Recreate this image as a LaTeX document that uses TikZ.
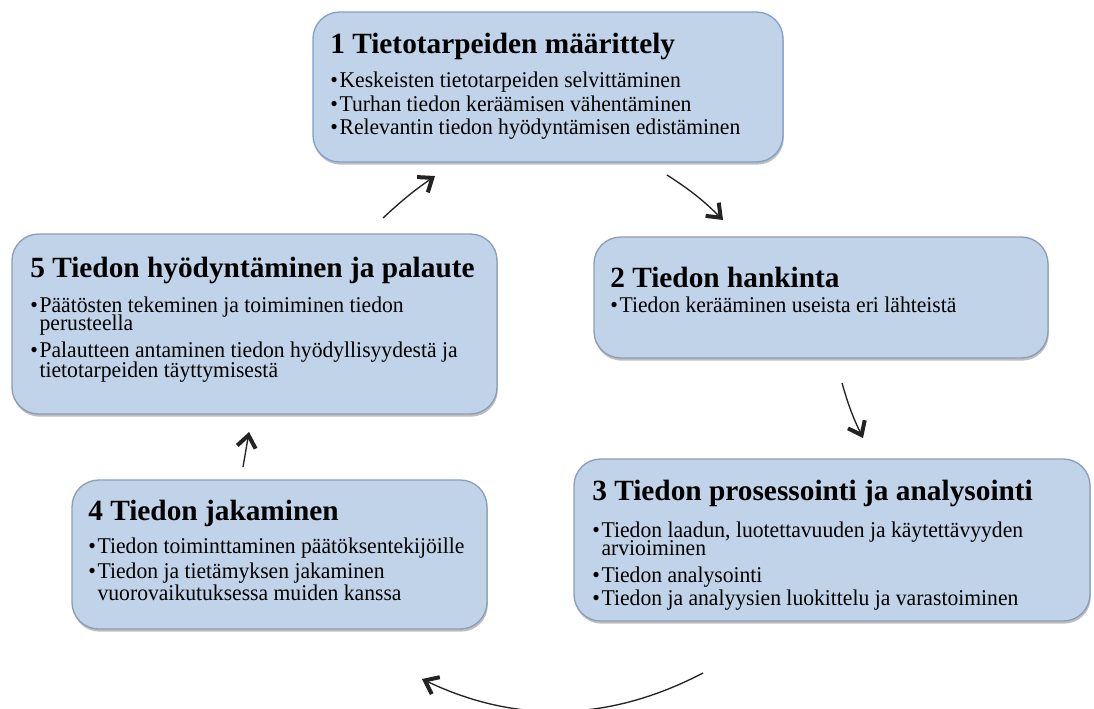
\documentclass[tikz,border=0pt]{standalone}
\usepackage{fontspec}
\setmainfont{Liberation Serif}
\newfontfamily\bodyfont{Liberation Serif}[FakeStretch=0.96]
\usetikzlibrary{arrows.meta,shadows}
\definecolor{boxfill}{RGB}{193,211,232}
\definecolor{boxline}{RGB}{140,158,182}
\definecolor{boxlineb}{RGB}{128,160,208}
\definecolor{arrowcol}{RGB}{35,35,35}
\newcommand\bulletmark{\makebox[7pt][l]{•}}
\newcommand\twolines[3][13.8pt]{\vtop{\baselineskip=#1\lineskiplimit=-100pt\lineskip=0pt\hbox{#2}\hbox{#3}}}
\begin{document}
\begin{tikzpicture}[x=0.75pt,y=-0.75pt,
 procbox/.style={draw=boxline, line width=1pt, fill=boxfill, rounded corners=20pt, inner sep=0pt, outer sep=0pt,
   drop shadow={shadow xshift=0.6pt,shadow yshift=-2pt,opacity=0.45,fill=black!55}},
 titletext/.style={anchor=base west, inner sep=0pt, font=\fontsize{22}{26}\selectfont\bfseries},
 bodytext/.style={anchor=base west, inner sep=0pt, font=\bodyfont\fontsize{16.9}{19}\selectfont},
 flowarrow/.style={draw=arrowcol, line width=1pt, -{Straight Barb[length=9pt,width=14pt,line width=3pt]}}]
\clip (0,0) rectangle (1094,708);
\fill[white] (0,0) rectangle (1094,708);

% boxes
\node[procbox, draw=boxlineb, minimum width=352.5pt, minimum height=112.5pt] (b1) at (548,87) {};
\node[procbox, minimum width=340.5pt, minimum height=90.75pt] (b2) at (821,297.5) {};
\node[procbox, minimum width=387pt, minimum height=121.5pt] (b3) at (832,540) {};
\node[procbox, minimum width=311.25pt, minimum height=111.75pt] (b4) at (279.5,554.5) {};
\node[procbox, minimum width=363.75pt, minimum height=135pt] (b5) at (254.5,324) {};

% box 1
\node[titletext] (t1) at (330,53) {1 Tietotarpeiden määrittely};
\node[bodytext] (t1a) at (330,87) {\bulletmark Keskeisten tietotarpeiden selvittäminen};
\node[bodytext] (t1b) at (330,111) {\bulletmark Turhan tiedon keräämisen vähentäminen};
\node[bodytext] (t1c) at (330,134) {\bulletmark Relevantin tiedon hyödyntämisen edistäminen};

% box 2
\node[titletext] (t2) at (610,287) {2 Tiedon hankinta};
\node[bodytext] (t2a) at (610,312) {\bulletmark Tiedon kerääminen useista eri lähteistä};

% box 3
\node[titletext] (t3) at (592,500) {3 Tiedon prosessointi ja analysointi};
\node[bodytext] (t3a) at (592,537) {\bulletmark\twolines{Tiedon laadun, luotettavuuden ja käytettävyyden}{arvioiminen}};
\node[bodytext] (t3c) at (592,582) {\bulletmark Tiedon analysointi};
\node[bodytext] (t3d) at (592,605) {\bulletmark Tiedon ja analyysien luokittelu ja varastoiminen};

% box 4
\node[titletext] (t4) at (88,520) {4 Tiedon jakaminen};
\node[bodytext] (t4a) at (88,553) {\bulletmark Tiedon toiminttaminen päätöksentekijöille};
\node[bodytext] (t4b) at (88,578) {\bulletmark\twolines[17pt]{Tiedon ja tietämyksen jakaminen}{vuorovaikutuksessa muiden kanssa}};

% box 5
\node[titletext] (t5) at (30,277) {5 Tiedon hyödyntäminen ja palaute};
\node[bodytext] (t5a) at (30,312) {\bulletmark\twolines{Päätösten tekeminen ja toimiminen tiedon}{perusteella}};
\node[bodytext] (t5c) at (30,357) {\bulletmark\twolines[15pt]{Palautteen antaminen tiedon hyödyllisyydestä ja}{tietotarpeiden täyttymisestä}};

% arrow end points
\coordinate (a1s) at (383,218); \coordinate (a1e) at (435,176);
\coordinate (a2s) at (667,175); \coordinate (a2e) at (723,220);
\coordinate (a3s) at (842,383); \coordinate (a3e) at (863,438);
\coordinate (a4s) at (243,467); \coordinate (a4e) at (249,432);
\coordinate (a5s) at (703,673); \coordinate (a5e) at (422,679);
\coordinate (a5c1) at (609,722); \coordinate (a5c2) at (516,724);

\draw[flowarrow] (a1s) to[bend left=4] (a1e);
\draw[flowarrow] (a2s) to[bend left=6] (a2e);
\draw[flowarrow] (a3s) to[bend right=5] (a3e);
\draw[flowarrow] (a4s) -- (a4e);
\draw[flowarrow] (a5s) .. controls (a5c1) and (a5c2) .. (a5e);
\end{tikzpicture}
\end{document}
